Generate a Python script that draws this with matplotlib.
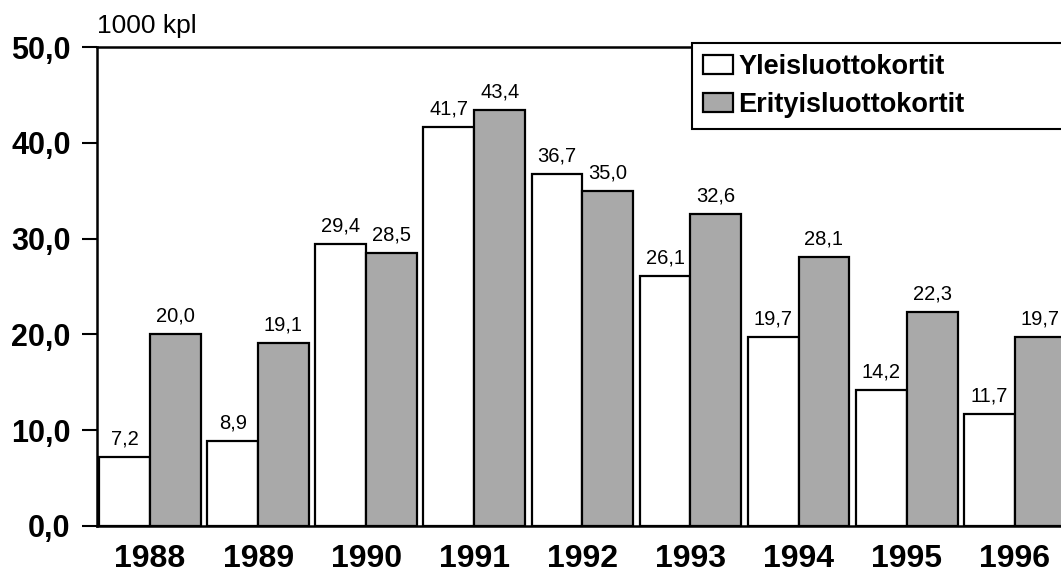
import matplotlib
matplotlib.use("Agg")
import matplotlib.pyplot as plt
import numpy as np

years = ["1988", "1989", "1990", "1991", "1992", "1993", "1994", "1995", "1996"]
yleis = [7.2, 8.9, 29.4, 41.7, 36.7, 26.1, 19.7, 14.2, 11.7]
erityis = [20.0, 19.1, 28.5, 43.4, 35.0, 32.6, 28.1, 22.3, 19.7]
yticks = [0, 10, 20, 30, 40, 50]
series_names = ["Yleisluottokortit", "Erityisluottokortit"]

plt.rcParams['font.family'] = ['Liberation Sans', 'DejaVu Sans']

W, H = 1061, 573
fig = plt.figure(figsize=(W / 100, H / 100), dpi=100)
left_px, right_px, top_px, bot_px = 97, 1080, 47, 526
ax = fig.add_axes([left_px / W, 1 - bot_px / H, (right_px - left_px) / W, (bot_px - top_px) / H])

x = np.arange(len(years))
w = 0.47
gray = '#a9a9a9'
b1 = ax.bar(x - w / 2, yleis, w, facecolor='white', edgecolor='black', linewidth=1.6, zorder=3,
            label=series_names[0])
b2 = ax.bar(x + w / 2, erityis, w, facecolor=gray, edgecolor='black', linewidth=1.6, zorder=3,
            label=series_names[1])

def fmt(v):
    return f"{v:.1f}".replace('.', ',')

for xi, v in zip(x - w / 2, yleis):
    ax.annotate(fmt(v), (xi, v), xytext=(0, 9), textcoords='offset points', ha='center',
                va='baseline', fontsize=14.5, zorder=2)
for xi, v in zip(x + w / 2, erityis):
    ax.annotate(fmt(v), (xi, v), xytext=(0, 9), textcoords='offset points', ha='center',
                va='baseline', fontsize=14.5, zorder=2)

ax.set_xlim(-0.49, (right_px - 150) / 108.1)
ax.set_ylim(0, 50)
ax.set_yticks(yticks)
ax.set_yticklabels([fmt(t) for t in yticks], fontsize=22, fontweight='bold')
ax.set_xticks(x)
ax.set_xticklabels(years, fontsize=23, fontweight='bold')
ax.tick_params(axis='x', length=0, pad=13)
ax.tick_params(axis='y', length=11, width=1.5, pad=8, direction='out')

for s in ['left', 'bottom', 'top']:
    ax.spines[s].set_linewidth(1.8)
ax.spines['right'].set_visible(False)

fig.text(left_px / W, 1 - 33 / H, "1000 kpl", fontsize=19, ha='left', va='baseline')

leg = ax.legend(loc='upper left',
                bbox_to_anchor=(692 / W, 1 - 130 / H, (1120 - 692) / W, 87 / H),
                bbox_transform=fig.transFigure, mode='expand', borderaxespad=0,
                fancybox=False, framealpha=1, edgecolor='black',
                prop={'weight': 'bold', 'size': 19.5}, handlelength=1.1, handleheight=0.7,
                handletextpad=0.2, labelspacing=0.45, borderpad=0.4)
leg.get_frame().set_linewidth(1.5)
leg.set_zorder(5)

fig.savefig("out.png", dpi=100)
